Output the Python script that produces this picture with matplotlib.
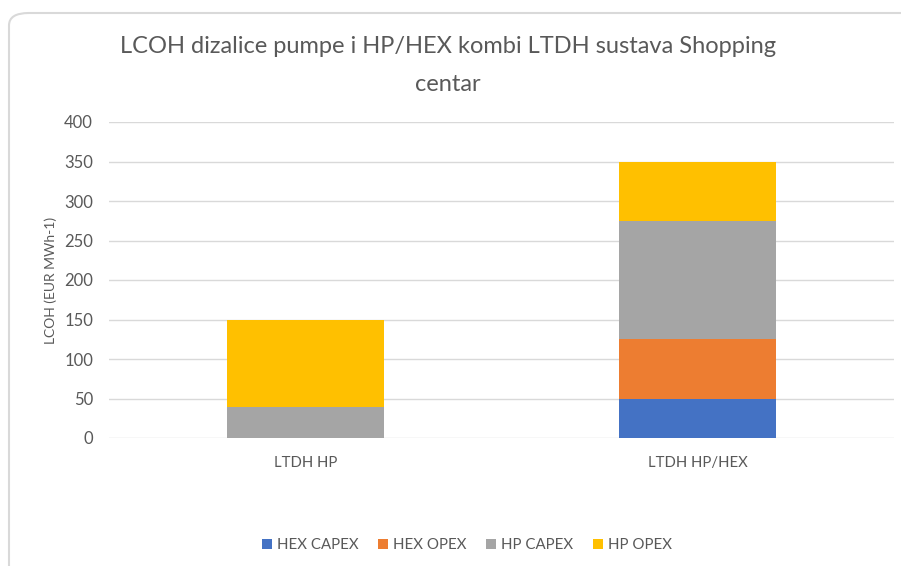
import matplotlib.pyplot as plt
from matplotlib.patches import FancyBboxPatch

categories = ['LTDH HP', 'LTDH HP/HEX']
series = ['HEX CAPEX', 'HEX OPEX', 'HP CAPEX', 'HP OPEX']
hex_capex = [0, 50]
hex_opex = [0, 75]
hp_capex = [39, 150]
hp_opex = [110, 75]
colors = ['#4472c4', '#ed7d31', '#a5a5a5', '#ffc000']

plt.rcParams['font.family'] = ['Lato', 'DejaVu Sans']
txt = '#595959'

fig = plt.figure(figsize=(9.01, 5.66), dpi=100)

# chart frame with rounded corner
frame = FancyBboxPatch((9 / 901, -0.2), 1.2, 1.2 - 13 / 566,
                       boxstyle='round,pad=0,rounding_size=0.022',
                       transform=fig.transFigure, facecolor='white',
                       edgecolor='#d9d9d9', linewidth=1.5, zorder=-1)
fig.patches.append(frame)

ax = fig.add_axes([109 / 901, (566 - 438) / 566, 785 / 901, 316 / 566])
ax.set_facecolor('none')
ax.set_zorder(2)

x = range(len(categories))
bottom = [0, 0]
for name, vals, c in zip(series, [hex_capex, hex_opex, hp_capex, hp_opex], colors):
    ax.bar(x, vals, 0.4, bottom=bottom, color=c, label=name, zorder=3)
    bottom = [b + v for b, v in zip(bottom, vals)]

ax.set_ylim(0, 400)
ax.set_xlim(-0.5, 1.5)
ax.set_yticks(range(0, 401, 50))
ax.set_xticks(list(x))
ax.set_xticklabels(categories)
ax.grid(axis='y', color='#d9d9d9', linewidth=1, zorder=0)
for s in ax.spines.values():
    s.set_visible(False)
ax.tick_params(length=0, colors=txt)
ax.tick_params(axis='y', pad=11.5, labelsize=12)
ax.tick_params(axis='x', pad=13, labelsize=10.7)
ax.set_ylabel('LCOH (EUR MWh-1)', color=txt, fontsize=10, labelpad=5)

fig.text(0.497, 0.884, 'LCOH dizalice pumpe i HP/HEX kombi LTDH sustava Shopping\ncentar',
         ha='center', va='center', fontsize=17, color=txt, linespacing=2.0)

fig.legend(loc='center', bbox_to_anchor=(0.518, 0.037), ncol=4, frameon=False,
           fontsize=10.8, handlelength=0.7, handleheight=0.7, handletextpad=0.3,
           columnspacing=1.3, labelcolor=txt)

fig.savefig('out.png', dpi=100)
